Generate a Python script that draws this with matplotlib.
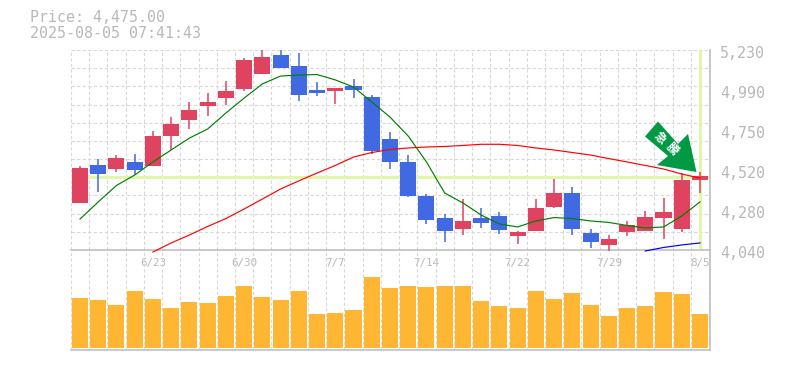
import numpy as np
import matplotlib
matplotlib.use("Agg")
import matplotlib.pyplot as plt
from matplotlib.patches import Polygon
from matplotlib.transforms import Affine2D

opens = [4321, 4546, 4522, 4564, 4540, 4718, 4813, 4897, 4944, 4998, 5087, 5200, 5135, 4992, 4986, 5016, 4950, 4700,
         4564, 4361, 4230, 4165, 4230, 4242, 4123, 4153, 4296, 4379, 4141, 4070, 4147, 4153, 4230, 4165, 4457]
highs = [4540, 4581, 4605, 4611, 4748, 4831, 4921, 4974, 5046, 5182, 5230, 5230, 5212, 5040, 5004, 5057, 4962, 4742,
         4605, 4373, 4254, 4343, 4290, 4266, 4153, 4343, 4462, 4415, 4165, 4129, 4213, 4272, 4349, 4498, 4504]
lows = [4321, 4385, 4504, 4486, 4540, 4635, 4760, 4837, 4903, 4986, 5087, 5123, 4927, 4956, 4909, 4944, 4611, 4522,
        4355, 4195, 4088, 4129, 4171, 4135, 4076, 4153, 4290, 4129, 4052, 4034, 4123, 4153, 4105, 4147, 4379]
closes = [4528, 4492, 4587, 4516, 4718, 4790, 4873, 4921, 4986, 5170, 5188, 5123, 4962, 4974, 5004, 4992, 4629, 4564,
          4361, 4219, 4153, 4213, 4201, 4159, 4147, 4290, 4379, 4165, 4088, 4105, 4189, 4236, 4266, 4457, 4480]
volumes = [50, 48, 43, 57, 49, 40, 46, 45, 52, 62, 51, 48, 57, 34, 35, 38, 71, 60,
           62, 61, 62, 62, 47, 42, 40, 57, 49, 55, 43, 32, 40, 42, 56, 54, 34]
ma_short = [4224, 4326, 4424, 4486, 4564, 4635, 4706, 4760, 4855, 4944, 5028, 5075, 5081, 5084, 5052, 5010, 4921, 4831,
            4718, 4564, 4379, 4320, 4248, 4195, 4177, 4213, 4233, 4227, 4213, 4204, 4186, 4171, 4177, 4242, 4326]
ma_long = [4028, 4082, 4129, 4180, 4227, 4284, 4343, 4403, 4451, 4498, 4543, 4593, 4620, 4638, 4647, 4653, 4656,
           4662, 4669, 4669, 4662, 4647, 4635, 4620, 4605, 4584, 4564, 4543, 4522, 4492, 4468]
ma_300 = [4034, 4055, 4070, 4082]
price_labels = ["5,230", "4,990", "4,750", "4,520", "4,280", "4,040"]
date_pos = [4, 9, 14, 19, 24, 29, 34]
date_labels = ["6/23", "6/30", "7/7", "7/14", "7/22", "7/29", "8/5"]
last_price = 4475

RED = "#e0435f"
BLUE = "#4169e1"
GREY = "#b8b8b8"
GRID = "#d8d8d8"
LIME = "#e2f5ac"
MONO = "DejaVu Sans Mono"

W, H = 785, 370
fig = plt.figure(figsize=(W / 100, H / 100), dpi=100)
left, right = 70.7 / W, 710 / W
ax = fig.add_axes([left, 1 - 250 / H, right - left, 200 / H])
ax2 = fig.add_axes([left, 1 - 350 / H, right - left, 100 / H])

xlim = (-0.51, 34.55)
xs = np.arange(len(opens))

for a in (ax, ax2):
    a.set_xlim(xlim)
    a.set_axisbelow(True)
    a.patch.set_alpha(0)
    a.set_xticks(np.arange(-0.5, 35, 1), minor=True)
    a.grid(True, which="minor", axis="x", color=GRID, lw=0.8, ls=(0, (3, 2)))
    a.tick_params(which="both", length=0)
    for s in ("left", "top"):
        a.spines[s].set_visible(False)
    for s in ("right", "bottom"):
        a.spines[s].set_color("#c0c0c0")
        a.spines[s].set_linewidth(1.2)

# price panel
ax.set_ylim(4040, 5230)
ax.set_yticks(np.linspace(4040, 5230, 12))
ax.set_yticklabels([])
ax.grid(True, which="major", axis="y", color=GRID, lw=0.8, ls=(0, (3, 2)))
ax.axhline(last_price, color=LIME, lw=2.2, zorder=1)
ax.plot([34, 34], [4046, 5230], color=LIME, lw=2.2, zorder=1, solid_capstyle="butt")

for i in xs:
    c = RED if closes[i] >= opens[i] else BLUE
    ax.plot([i, i], [lows[i], highs[i]], color=c, lw=1.1, zorder=3, clip_on=False, solid_capstyle="butt")
    ax.bar(i, abs(closes[i] - opens[i]), bottom=min(opens[i], closes[i]), width=0.88, color=c, zorder=3, lw=0)

ax.plot(xs, ma_short, color="#008000", lw=0.85, zorder=4)
ax.plot(xs[4:], ma_long, color="#ff0000", lw=0.85, zorder=4, clip_on=False)
ax.plot(xs[31:], ma_300, color="#0000ff", lw=0.85, zorder=4, clip_on=False)

ax.set_xticks(date_pos)
ax.set_xticklabels(date_labels, family=MONO, fontsize=7.8, color=GREY)
ax.tick_params(axis="x", which="major", pad=6)

ticks = np.linspace(5230, 4040, len(price_labels))
for v, t in zip(ticks, price_labels):
    ax.annotate(t, xy=(1, v), xycoords=("axes fraction", "data"), xytext=(7.5, -2.2), textcoords="offset points",
                family=MONO, fontsize=10.8, color=GREY, va="center", ha="left")

# volume panel
ax2.set_ylim(-2, 98)
ax2.set_yticks([])
ax2.set_xticks([])
ax2.bar(xs, volumes, width=0.88, color="#ffb733", lw=0, zorder=3)

fig.text(30 / W, 1 - 18 / H, "Price: 4,475.00", family=MONO, fontsize=10.8, color=GREY, va="center")
fig.text(30 / W, 1 - 33 / H, "2025-08-05 07:41:43", family=MONO, fontsize=10.8, color=GREY, va="center")

# arrow badge, figure pixels
px = Affine2D().scale(1, -1).translate(0, H)
arrow = [(658, 121.5), (645, 136.5), (668, 156), (657, 165), (696.5, 172), (688, 134), (678, 144)]
fig.add_artist(Polygon(arrow, closed=True, fc="#009944", ec="none", transform=px, zorder=5))
for ch, cx, cy in [("急", 660, 138), ("騰", 672, 149)]:
    fig.text(cx / W, 1 - cy / H, ch, family=["Noto Sans CJK JP", "DejaVu Sans"], fontsize=8.5, fontweight="bold",
             color="white", rotation=-45, ha="center", va="center", rotation_mode="anchor", zorder=6)

fig.savefig("out.png", dpi=100)
